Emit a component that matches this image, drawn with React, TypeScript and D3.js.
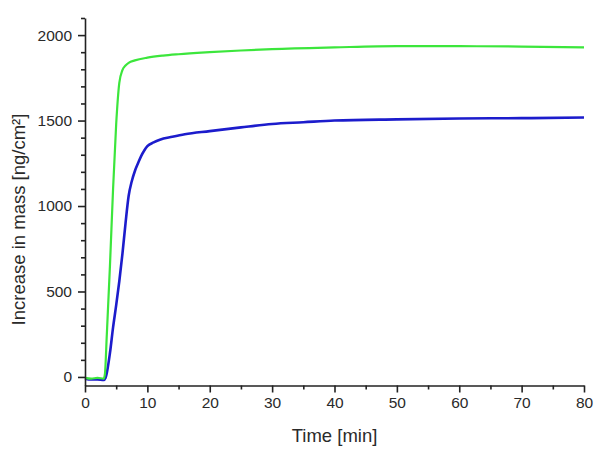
import React, { useRef, useEffect } from "react";
import * as d3 from "d3";

// time in minutes, mass increase in ng/cm²
const greenTime = [0, 1, 2, 3, 3.2, 3.5, 4, 4.5, 5, 5.5, 6, 6.5, 7, 8, 10, 12.5, 15, 20, 25, 30, 40, 50, 60, 70, 80];
const greenMass = [-5, -10, -5, -10, 20, 250, 650, 1100, 1480, 1720, 1795, 1822, 1838, 1852, 1868, 1880, 1888, 1900, 1910, 1918, 1928, 1935, 1935, 1933, 1928];

const blueTime = [0, 1, 2, 3, 3.3, 4, 4.5, 5, 5.5, 6, 6.5, 7, 7.5, 8, 8.5, 9, 9.5, 10, 11, 12, 14, 16, 20, 25, 30, 35, 40, 50, 60, 70, 80];
const blueMass = [-10, -15, -15, -18, -5, 140, 290, 420, 560, 720, 900, 1060, 1145, 1205, 1250, 1292, 1325, 1350, 1372, 1388, 1405, 1420, 1438, 1460, 1480, 1490, 1500, 1507, 1512, 1514, 1518];

const xTicks = [0, 10, 20, 30, 40, 50, 60, 70, 80];
const yTicks = [0, 500, 1000, 1500, 2000];

const App = () => {
  const svgRef = useRef<SVGSVGElement>(null);

  useEffect(() => {
    const svg = d3.select(svgRef.current);
    svg.selectAll("*").remove();

    const x = d3.scaleLinear().domain([0, 80]).range([85, 584]);
    const y = d3.scaleLinear().domain([-50, 2100]).range([385.5, 18]);

    const font = "'Liberation Sans', Arial, sans-serif";

    const line = d3
      .line<number>()
      .x((d) => x(d))
      .curve(d3.curveMonotoneX);

    svg
      .append("path")
      .attr("d", line.y((_, i) => y(blueMass[i]))(blueTime))
      .attr("fill", "none")
      .attr("stroke", "#1c1ccc")
      .attr("stroke-width", 2.6);

    svg
      .append("path")
      .attr("d", line.y((_, i) => y(greenMass[i]))(greenTime))
      .attr("fill", "none")
      .attr("stroke", "#3ce63c")
      .attr("stroke-width", 2.2);

    // minor ticks
    const minorX = d3.range(0, 81, 5).filter((v) => v % 10 !== 0);
    const minorY = d3.range(100, 2101, 100).filter((v) => v % 500 !== 0);

    const xAxis = svg
      .append("g")
      .attr("transform", `translate(0,${y(-50)})`)
      .call(
        d3.axisBottom(x).tickValues(xTicks).tickFormat(d3.format("d")).tickSize(7).tickPadding(4).tickSizeOuter(0)
      );
    svg
      .append("g")
      .attr("transform", `translate(0,${y(-50)})`)
      .call(d3.axisBottom(x).tickValues(minorX).tickSize(4).tickFormat(() => "").tickSizeOuter(0))
      .select(".domain")
      .remove();

    const yAxis = svg
      .append("g")
      .attr("transform", `translate(${x(0)},0)`)
      .call(
        d3.axisLeft(y).tickValues(yTicks).tickFormat(d3.format("d")).tickSize(7).tickPadding(6).tickSizeOuter(0)
      );
    svg
      .append("g")
      .attr("transform", `translate(${x(0)},0)`)
      .call(d3.axisLeft(y).tickValues(minorY).tickSize(4).tickFormat(() => "").tickSizeOuter(0))
      .select(".domain")
      .remove();

    [xAxis, yAxis].forEach((g) => {
      g.selectAll("text").attr("font-family", font).attr("font-size", 15.5).attr("fill", "#2a2a2a");
    });
    svg.selectAll(".domain, .tick line").attr("stroke", "#222").attr("stroke-width", 1.6);

    svg
      .append("text")
      .attr("x", 334.5)
      .attr("y", 442)
      .attr("text-anchor", "middle")
      .attr("font-family", font)
      .attr("font-size", 18.5)
      .attr("fill", "#2a2a2a")
      .text("Time [min]");

    svg
      .append("text")
      .attr("transform", `translate(25,219.5) rotate(-90)`)
      .attr("text-anchor", "middle")
      .attr("font-family", font)
      .attr("font-size", 18.5)
      .attr("fill", "#2a2a2a")
      .text("Increase in mass [ng/cm²]");
  }, []);

  return (
    <svg
      ref={svgRef}
      width={601}
      height={452}
      style={{ position: "absolute", left: 0, top: 0, background: "#fff" }}
    />
  );
};

export default App;
